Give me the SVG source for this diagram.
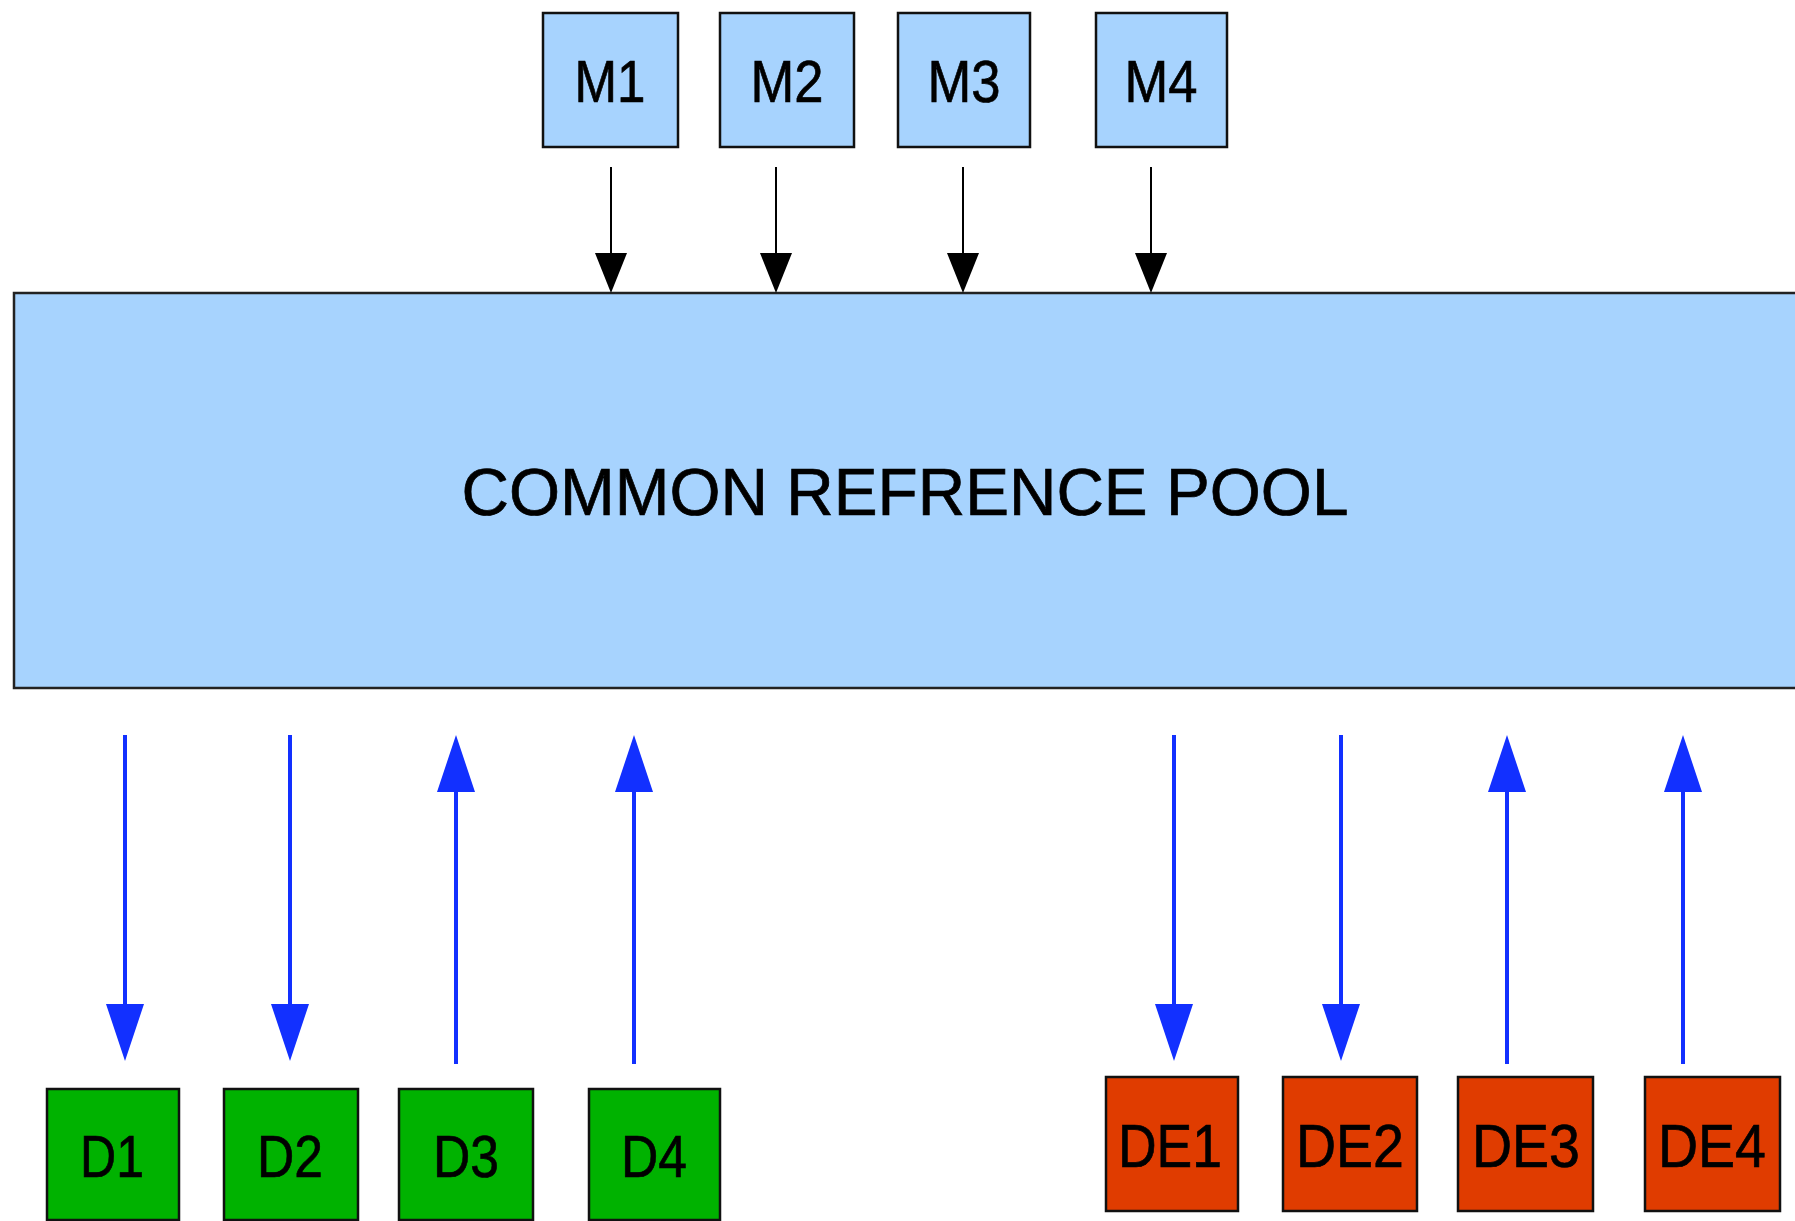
<svg xmlns="http://www.w3.org/2000/svg" width="1795" height="1221" viewBox="0 0 1795 1221">
<defs>
<style>
.lbl{font-family:"Liberation Sans",Arial,sans-serif;fill:#000;stroke:#000;stroke-width:0.7;text-anchor:middle}
.m{fill:#a7d3fe;stroke:#111;stroke-width:2.5}
.d{fill:#00b200;stroke:#111;stroke-width:2.5}
.de{fill:#e03c00;stroke:#111;stroke-width:2.5}
.pool{fill:#a7d3fe;stroke:#222;stroke-width:2.5}
.ka{stroke:#000;stroke-width:2;fill:none;marker-end:url(#ah-k)}
.ba{stroke:#1230ff;stroke-width:4;fill:none;marker-end:url(#ah-b)}
</style>
<marker id="ah-k" viewBox="0 0 40 32" markerUnits="userSpaceOnUse" markerWidth="40" markerHeight="32" refX="30" refY="16" orient="auto"><path d="M0,0 L40,16 L0,32 z" fill="#000"/></marker>
<marker id="ah-b" viewBox="0 0 57 38" markerUnits="userSpaceOnUse" markerWidth="57" markerHeight="38" refX="47" refY="19" orient="auto"><path d="M0,0 L57,19 L0,38 z" fill="#1230ff"/></marker>
</defs>
<rect width="1795" height="1221" fill="#fff"/>
<g id="pool"><rect class="pool" x="14" y="293" width="1795" height="395"/><text class="lbl" x="905" y="515" font-size="66" textLength="887" lengthAdjust="spacingAndGlyphs">COMMON REFRENCE POOL</text></g>
<g id="M1"><rect class="m" x="543" y="13" width="135" height="134"/><text class="lbl" x="610" y="102" font-size="60" textLength="71" lengthAdjust="spacingAndGlyphs">M1</text></g>
<g id="M2"><rect class="m" x="720" y="13" width="134" height="134"/><text class="lbl" x="787" y="102" font-size="60" textLength="73" lengthAdjust="spacingAndGlyphs">M2</text></g>
<g id="M3"><rect class="m" x="898" y="13" width="132" height="134"/><text class="lbl" x="964" y="102" font-size="60" textLength="73" lengthAdjust="spacingAndGlyphs">M3</text></g>
<g id="M4"><rect class="m" x="1096" y="13" width="131" height="134"/><text class="lbl" x="1161" y="102" font-size="60" textLength="73" lengthAdjust="spacingAndGlyphs">M4</text></g>
<g id="D1"><rect class="d" x="47" y="1089" width="132" height="131"/><text class="lbl" x="112" y="1177" font-size="60" textLength="64" lengthAdjust="spacingAndGlyphs">D1</text></g>
<g id="D2"><rect class="d" x="224" y="1089" width="134" height="131"/><text class="lbl" x="290" y="1177" font-size="60" textLength="66" lengthAdjust="spacingAndGlyphs">D2</text></g>
<g id="D3"><rect class="d" x="399" y="1089" width="134" height="131"/><text class="lbl" x="466" y="1177" font-size="60" textLength="66" lengthAdjust="spacingAndGlyphs">D3</text></g>
<g id="D4"><rect class="d" x="589" y="1089" width="131" height="131"/><text class="lbl" x="654" y="1177" font-size="60" textLength="66" lengthAdjust="spacingAndGlyphs">D4</text></g>
<g id="DE1"><rect class="de" x="1106" y="1077" width="132" height="134"/><text class="lbl" x="1170" y="1167" font-size="61" textLength="104" lengthAdjust="spacingAndGlyphs">DE1</text></g>
<g id="DE2"><rect class="de" x="1283" y="1077" width="134" height="134"/><text class="lbl" x="1350" y="1167" font-size="61" textLength="108" lengthAdjust="spacingAndGlyphs">DE2</text></g>
<g id="DE3"><rect class="de" x="1458" y="1077" width="135" height="134"/><text class="lbl" x="1526" y="1167" font-size="61" textLength="108" lengthAdjust="spacingAndGlyphs">DE3</text></g>
<g id="DE4"><rect class="de" x="1645" y="1077" width="135" height="134"/><text class="lbl" x="1712" y="1167" font-size="61" textLength="108" lengthAdjust="spacingAndGlyphs">DE4</text></g>
<g id="connectors">
<line class="ka" x1="611" y1="167" x2="611" y2="283"/>
<line class="ka" x1="776" y1="167" x2="776" y2="283"/>
<line class="ka" x1="963" y1="167" x2="963" y2="283"/>
<line class="ka" x1="1151" y1="167" x2="1151" y2="283"/>
<line class="ba" x1="125" y1="735" x2="125" y2="1051"/>
<line class="ba" x1="290" y1="735" x2="290" y2="1051"/>
<line class="ba" x1="456" y1="1064" x2="456" y2="745"/>
<line class="ba" x1="634" y1="1064" x2="634" y2="745"/>
<line class="ba" x1="1174" y1="735" x2="1174" y2="1051"/>
<line class="ba" x1="1341" y1="735" x2="1341" y2="1051"/>
<line class="ba" x1="1507" y1="1064" x2="1507" y2="745"/>
<line class="ba" x1="1683" y1="1064" x2="1683" y2="745"/>
</g>
</svg>
